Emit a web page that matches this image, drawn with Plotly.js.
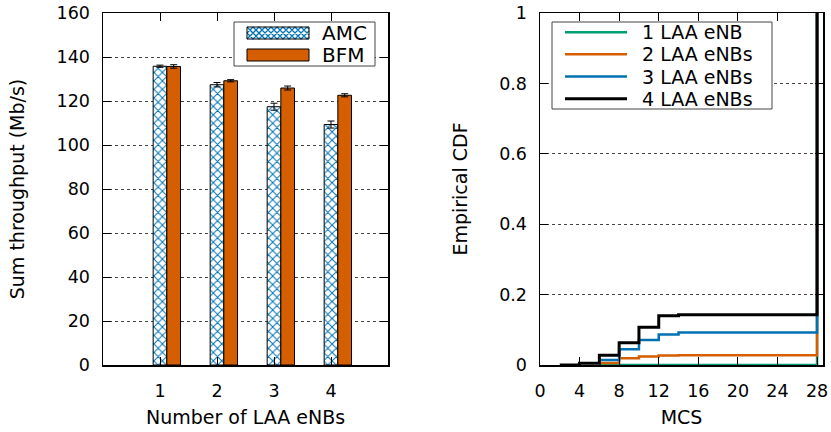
<!DOCTYPE html>
<html><head><meta charset="utf-8">
<script src="https://cdn.plot.ly/plotly-3.0.1.min.js"></script>
<style>html,body{margin:0;padding:0;background:#fff}</style>
</head><body>
<div id="chart" style="width:831px;height:432px"></div>
<script>
// Left panel: sum throughput
const nodes = [1, 2, 3, 4];
const amc = [135.8, 127.4, 117.4, 109.3];
const amcErr = [0.5, 1.0, 1.6, 1.6];
const bfm = [135.7, 129.2, 125.9, 122.6];
const bfmErr = [0.8, 0.5, 0.9, 0.7];

// Right panel: empirical CDF of MCS
const mcs1 = [6, 28];
const cdf1 = [0, 1];
const mcs2 = [6, 8, 10, 12, 14, 28];
const cdf2 = [0.006, 0.019, 0.024, 0.027, 0.028, 1];
const mcs3 = [6, 8, 10, 12, 14, 28];
const cdf3 = [0.014, 0.045, 0.071, 0.087, 0.092, 1];
const mcs4 = [2, 4, 6, 8, 10, 12, 14, 28];
const cdf4 = [0, 0.005, 0.028, 0.063, 0.107, 0.140, 0.143, 1];

const leftYTicks = [0, 20, 40, 60, 80, 100, 120, 140, 160];
const rightXTicks = [0, 4, 8, 12, 16, 20, 24, 28];
const rightYTicks = [0, 0.2, 0.4, 0.6, 0.8, 1];
const rightYLabels = ['0', '0.2', '0.4', '0.6', '0.8', '1'];

const barNames = ['AMC', 'BFM'];
const cdfNames = ['1 LAA eNB', '2 LAA eNBs', '3 LAA eNBs', '4 LAA eNBs'];

const FONT = 'DejaVu Sans, Liberation Sans, Arial, sans-serif';
const BLUE = '#0072B2', ORANGE = '#D55E00', GREEN = '#009E73';
const cdfColors = [GREEN, ORANGE, BLUE, '#000'];

// plot-area geometry (px) for placing the hand-drawn legends
const M = {l: 103, r: 8, t: 13, b: 67};
const W = 831, H = 432;
const PW = W - M.l - M.r, PH = H - M.t - M.b;
const px = x => (x - M.l) / PW;
const py = y => (H - M.b - y) / PH;

const traces = [
  {type: 'bar', x: nodes, y: amc, name: barNames[0], xaxis: 'x', yaxis: 'y', showlegend: false,
   offset: -0.12, width: 0.24,
   marker: {color: '#ffffff', line: {color: '#000', width: 1},
            pattern: {shape: 'x', fgcolor: BLUE, bgcolor: '#ffffff', size: 6, solidity: 0.3}},
   error_y: {type: 'data', array: amcErr, visible: true, color: '#000', thickness: 1, width: 3.5}},
  {type: 'bar', x: nodes, y: bfm, name: barNames[1], xaxis: 'x', yaxis: 'y', showlegend: false,
   offset: 0.12, width: 0.24,
   marker: {color: ORANGE, line: {color: '#000', width: 1}},
   error_y: {type: 'data', array: bfmErr, visible: true, color: '#000', thickness: 1, width: 3.5}}
];
const cdfX = [mcs1, mcs2, mcs3, mcs4], cdfY = [cdf1, cdf2, cdf3, cdf4];
for (let i = 0; i < 4; i++) {
  traces.push({type: 'scatter', mode: 'lines', x: cdfX[i], y: cdfY[i], name: cdfNames[i],
    xaxis: 'x2', yaxis: 'y2', showlegend: false,
    line: {shape: 'hv', color: cdfColors[i], width: i === 3 ? 3 : 2.5}});
}

// ---- legends drawn as shapes + annotations ----
const shapes = [], annotations = [];
function rect(x0, y0, x1, y1, fill, lineColor, lw) {
  shapes.push({type: 'rect', xref: 'paper', yref: 'paper', x0: px(x0), x1: px(x1), y0: py(y0), y1: py(y1),
    fillcolor: fill, line: {color: lineColor, width: lw}, layer: 'above'});
}
function label(x, y, text, size) {
  annotations.push({xref: 'paper', yref: 'paper', x: px(x), y: py(y), xanchor: 'left', yanchor: 'middle',
    text: text, showarrow: false, borderpad: 0, font: {family: FONT, size: size, color: '#000'}});
}
// crosshatch path clipped to a rectangle (px coords)
function hatchPath(x0, y0, x1, y1, step) {
  let d = '';
  const w = x1 - x0, h = y1 - y0;
  for (let c = -h; c <= w; c += step) {
    let a = Math.max(c, 0), b = Math.min(c + h, w);
    if (b > a) d += `M${px(x0 + a)},${py(y0 + a - c)}L${px(x0 + b)},${py(y0 + b - c)}`;
  }
  for (let c = 0; c <= w + h; c += step) {
    let a = Math.max(c - h, 0), b = Math.min(c, w);
    if (b > a) d += `M${px(x0 + a)},${py(y0 + c - a)}L${px(x0 + b)},${py(y0 + c - b)}`;
  }
  return d;
}
// left legend
rect(234, 22, 375, 66, '#ffffff', '#444', 1);
shapes.push({type: 'path', xref: 'paper', yref: 'paper', path: hatchPath(247, 27, 309, 39, 6),
  line: {color: BLUE, width: 1.3}, layer: 'above'});
rect(247, 27, 309, 39, 'rgba(0,0,0,0)', '#000', 1);
rect(247, 49, 309, 61, ORANGE, '#000', 1);
label(321, 33, barNames[0], 20);
label(321, 55, barNames[1], 20);
// right legend
rect(552, 22, 772, 109, '#ffffff', '#444', 1);
const rows = [32.3, 54.3, 76.5, 98.7];
for (let i = 0; i < 4; i++) {
  shapes.push({type: 'line', xref: 'paper', yref: 'paper', x0: px(565), x1: px(627), y0: py(rows[i]), y1: py(rows[i]),
    line: {color: cdfColors[i], width: i === 3 ? 3 : 2.5}, layer: 'above'});
  label(641, rows[i], cdfNames[i], 19);
}

const axisCommon = {
  showline: true, linecolor: '#000', linewidth: 1.5, mirror: 'ticks',
  ticks: 'inside', ticklen: 8, tickcolor: '#000', tickwidth: 1,
  tickfont: {family: FONT, size: 17.5, color: '#000'},
  zeroline: false, fixedrange: true
};
const titleFont = {family: FONT, size: 19, color: '#000'};

const layout = {
  width: W, height: H,
  margin: M,
  paper_bgcolor: '#fff', plot_bgcolor: '#fff',
  font: {family: FONT, color: '#000'},
  barmode: 'overlay',
  showlegend: false,
  xaxis: Object.assign({}, axisCommon, {
    domain: [0, px(388)], range: [0, 5], tickvals: nodes, showgrid: false,
    ticklabelstandoff: 9,
    title: {text: 'Number of LAA eNBs', font: titleFont, standoff: 11}
  }),
  yaxis: Object.assign({}, axisCommon, {
    range: [0, 160], tickvals: leftYTicks, showgrid: true, gridcolor: '#444', griddash: 'dot', gridwidth: 1,
    ticklabelstandoff: 8,
    title: {text: 'Sum throughput (Mb/s)', font: titleFont, standoff: 27}
  }),
  xaxis2: Object.assign({}, axisCommon, {
    domain: [px(540), 1], range: [0, 28.6], anchor: 'y2', tickvals: rightXTicks, showgrid: false,
    ticklabelstandoff: 9,
    title: {text: 'MCS', font: titleFont, standoff: 11}
  }),
  yaxis2: Object.assign({}, axisCommon, {
    range: [0, 1], anchor: 'x2', tickvals: rightYTicks, ticktext: rightYLabels,
    showgrid: true, gridcolor: '#444', griddash: 'dot', gridwidth: 1,
    ticklabelstandoff: 8,
    title: {text: 'Empirical CDF', font: titleFont, standoff: 26}
  }),
  shapes: shapes,
  annotations: annotations
};

Plotly.newPlot('chart', traces, layout, {staticPlot: true, displayModeBar: false});
</script>
</body></html>
